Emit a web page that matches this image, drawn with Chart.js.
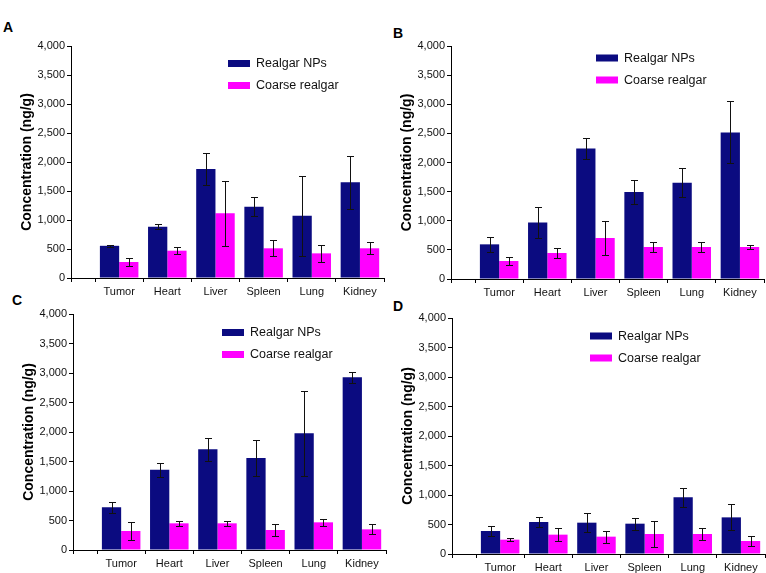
<!DOCTYPE html>
<html>
<head>
<meta charset="utf-8">
<script src="https://cdn.jsdelivr.net/npm/chart.js@4.4.0/dist/chart.umd.min.js"></script>
<style>
    body { margin: 0; width: 766px; height: 573px; background: #fff; position: relative; overflow: hidden; }
    canvas { position: absolute; }
    .tag { position: absolute; font: bold 14px/14px "Liberation Sans", Arial, sans-serif; color: #000; }
</style>
</head>
<body>
<div class="tag" style="left:3px;top:20px">A</div>
<div class="tag" style="left:393px;top:26px">B</div>
<div class="tag" style="left:12px;top:293px">C</div>
<div class="tag" style="left:393px;top:299px">D</div>
<canvas id="chartA"></canvas>
<canvas id="chartB"></canvas>
<canvas id="chartC"></canvas>
<canvas id="chartD"></canvas>
<script>
// Organ categories (x axis)
const organs = ['Tumor', 'Heart', 'Liver', 'Spleen', 'Lung', 'Kidney'];
const seriesNames = ['Realgar NPs', 'Coarse realgar'];
const yTickStep = 500;
const yMax = 4000;

// Panel A
const npA = [555, 885, 1880, 1230, 1075, 1650];
const npAErr = [20, 45, 270, 160, 690, 460];
const coarseA = [276, 471, 1115, 512, 425, 512];
const coarseAErr = [70, 65, 565, 138, 150, 105];

// Panel B
const npB = [595, 972, 2242, 1493, 1653, 2517];
const npBErr = [130, 270, 183, 200, 252, 532];
const coarseB = [309, 446, 704, 549, 549, 549];
const coarseBErr = [63, 80, 286, 92, 92, 34];

// Panel C
const npC = [723, 1362, 1706, 1559, 1977, 2927];
const npCErr = [91, 118, 192, 305, 718, 90];
const coarseC = [322, 452, 452, 339, 469, 350];
const coarseCErr = [153, 40, 40, 107, 62, 85];

// Panel D
const npD = [390, 542, 531, 514, 960, 621];
const npDErr = [85, 91, 164, 102, 164, 221];
const coarseD = [243, 328, 294, 339, 339, 220];
const coarseDErr = [28, 107, 101, 226, 107, 91];

const FONT = '"Liberation Sans", Arial, sans-serif';
const NAVY = '#0b0b80';
const MAGENTA = '#ff00ff';

// error bars + in-plot legend
const errLegend = {
    id: 'errLegend',
    afterDatasetsDraw(chart, args, opts) {
        const ctx = chart.ctx;
        const yScale = chart.scales.y;
        ctx.save();
        ctx.strokeStyle = '#111';
        ctx.lineWidth = 1;
        chart.data.datasets.forEach((ds, i) => {
            const meta = chart.getDatasetMeta(i);
            meta.data.forEach((bar, j) => {
                const v = ds.data[j].y;
                const e = ds.errors[j];
                const x = Math.round(bar.x) + 0.5;
                const top = Math.round(yScale.getPixelForValue(v + e)) + 0.5;
                const bot = Math.round(yScale.getPixelForValue(Math.max(0, v - e))) + 0.5;
                ctx.beginPath();
                ctx.moveTo(x, top); ctx.lineTo(x, bot);
                ctx.moveTo(x - 3.5, top); ctx.lineTo(x + 3.5, top);
                ctx.moveTo(x - 3.5, bot); ctx.lineTo(x + 3.5, bot);
                ctx.stroke();
            });
        });

        // legend
        const area = chart.chartArea;
        ctx.font = '12.5px ' + FONT;
        ctx.textBaseline = 'middle';
        chart.data.datasets.forEach((ds, i) => {
            const bx = area.left + opts.x;
            const cy = area.top + opts.y + i * 22;
            ctx.fillStyle = ds.backgroundColor;
            ctx.fillRect(bx, cy - 3.5, 22, 7);
            ctx.fillStyle = '#111';
            ctx.fillText(ds.label, bx + 28, cy + 0.5);
        });
        ctx.restore();
    }
};

// tick marks sit between organs (half steps), labels on the organs
const xTicks = [];
for (let v = 0; v <= organs.length + 0.5; v += 0.5) xTicks.push(v);

function makePanel(id, left, top, height, np, npErr, coarse, coarseErr, legendPos) {
    const canvas = document.getElementById(id);
    canvas.width = 388;
    canvas.height = height;
    canvas.style.left = left + 'px';
    canvas.style.top = top + 'px';

    // bar ruler sees the half-step ticks, so the group fraction is doubled
    return new Chart(canvas, {
        type: 'bar',
        data: {
            datasets: [{
                label: seriesNames[0],
                data: np.map((v, i) => ({ x: i + 1, y: v })),
                errors: npErr,
                backgroundColor: NAVY,
                categoryPercentage: 1.6,
                barPercentage: 1.0
            }, {
                label: seriesNames[1],
                data: coarse.map((v, i) => ({ x: i + 1, y: v })),
                errors: coarseErr,
                backgroundColor: MAGENTA,
                categoryPercentage: 1.6,
                barPercentage: 1.0
            }]
        },
        options: {
            responsive: false,
            animation: false,
            layout: { padding: { top: 10, right: 4, left: 0, bottom: 0 } },
            plugins: {
                legend: { display: false },
                tooltip: { enabled: false },
                errLegend: legendPos
            },
            scales: {
                x: {
                    type: 'linear',
                    min: 0,
                    max: organs.length + 0.5,
                    offset: false,
                    afterBuildTicks: (scale) => { scale.ticks = xTicks.map(v => ({ value: v })); },
                    afterFit: (scale) => { scale.height = 24; },
                    border: { color: '#000', width: 1 },
                    grid: {
                        offset: false,
                        drawOnChartArea: false,
                        tickLength: 4,
                        tickColor: (c) => (Number.isInteger(c.tick.value) && c.tick.value > 0) ? 'rgba(0,0,0,0)' : '#000'
                    },
                    ticks: {
                        autoSkip: false,
                        maxRotation: 0,
                        padding: 3,
                        color: '#111',
                        font: { family: FONT, size: 11 },
                        callback: (v) => (Number.isInteger(v) && v >= 1 && v <= organs.length) ? organs[v - 1] : ''
                    }
                },
                y: {
                    min: 0,
                    max: yMax,
                    afterFit: (scale) => { scale.width = 71; },
                    border: { color: '#000', width: 1 },
                    grid: { drawOnChartArea: false, tickLength: 4, tickColor: '#000' },
                    ticks: {
                        stepSize: yTickStep,
                        padding: 2,
                        color: '#111',
                        font: { family: FONT, size: 11 }
                    },
                    title: {
                        display: true,
                        text: 'Concentration (ng/g)',
                        color: '#000',
                        font: { family: FONT, size: 14, weight: 'bold' },
                        padding: { top: 19, bottom: 0 }
                    }
                }
            }
        },
        plugins: [errLegend]
    });
}

document.addEventListener('DOMContentLoaded', () => {
    makePanel('chartA', 0, 36, 266, npA, npAErr, coarseA, coarseAErr, { x: 157, y: 17.5 });
    makePanel('chartB', 380, 36, 267, npB, npBErr, coarseB, coarseBErr, { x: 145, y: 12 });
    makePanel('chartC', 2, 304, 270, npC, npCErr, coarseC, coarseCErr, { x: 149, y: 18.5 });
    makePanel('chartD', 381, 308, 270, npD, npDErr, coarseD, coarseDErr, { x: 138, y: 18 });
});
</script>
</body>
</html>
